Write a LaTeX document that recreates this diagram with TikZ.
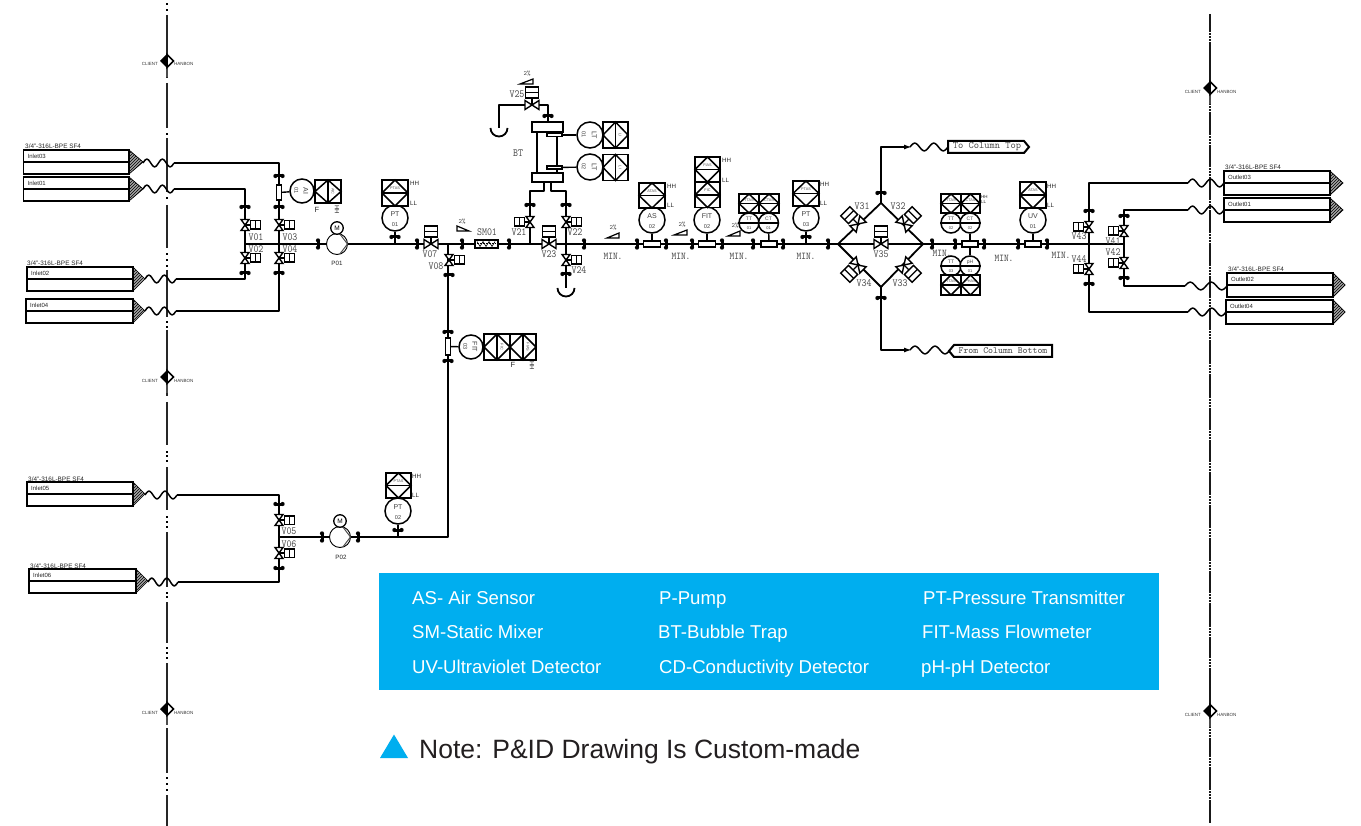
\documentclass[tikz,border=0pt]{standalone}
\usepackage{fontspec}
\setmainfont{Liberation Sans}
\usetikzlibrary{patterns,arrows.meta,calc}
\definecolor{legblue}{HTML}{00AEEF}
\definecolor{notegray}{HTML}{231F20}
\newcounter{tn}
\tikzset{
  pipe/.style={line width=1.8pt,line join=round},
  flbar/.style={line width=3pt},
  elem/.style={draw,line width=1.4pt,fill=white,inner sep=0pt},
  instc/.style={circle,draw,line width=1.5pt,fill=white,inner sep=0pt},
  vbody/.style={draw,line width=1.4pt,fill=white,line join=miter},
  boxln/.style={line width=1.5pt,line join=miter},
  monolab/.style={font=\ttfamily\fontsize{9.5}{10}\selectfont,text=black!70,inner sep=0pt,yscale=1.15},
  minlab/.style={font=\ttfamily\fontsize{9}{10}\selectfont,text=black!70,inner sep=0pt,yscale=1.15},
  pctlab/.style={font=\ttfamily\fontsize{6.5}{7}\selectfont,text=black!75,inner sep=0pt},
  smalllab/.style={font=\fontsize{6.2}{7}\selectfont,text=black!85,inner sep=0pt},
  tinylab/.style={font=\fontsize{4.5}{5}\selectfont,text=black!80,inner sep=0pt},
  legtext/.style={font=\fontsize{18.6}{20}\selectfont,text=white,inner sep=0pt,anchor=base west},
  tagtext/.style={font=\ttfamily\fontsize{10}{11}\selectfont,text=black!70,inner sep=0pt},
}
\newcommand{\lab}[4]{\stepcounter{tn}\node[#1] (tx\arabic{tn}) at (#2,#3) {#4};}
\newcommand{\fl}[3]{\begin{scope}[shift={(#1,#2)},rotate=#3]
  \draw[flbar] (0,-3.6)--(0,3.6);
  \fill (0,-3.6) circle (2.1); \fill (0,3.6) circle (2.1);
  \end{scope}}
\newcommand{\vlv}[3]{\begin{scope}[shift={(#1,#2)},rotate=#3]
  \draw[vbody] (-5.5,-4)--(5.5,4)--(5.5,-4)--(-5.5,4)--cycle;
  \draw[line width=1.2pt] (0,0)--(0,-5.5);
  \draw[vbody] (-4.2,-5.5) rectangle (4.2,-15.5);
  \draw[line width=1.2pt] (-4.2,-10.5)--(4.2,-10.5);
  \end{scope}}
\newcommand{\vlvb}[3]{\begin{scope}[shift={(#1,#2)},rotate=#3]
  \draw[vbody] (-7,-4.5)--(7,4.5)--(7,-4.5)--(-7,4.5)--cycle;
  \draw[line width=1.2pt] (0,0)--(0,-7);
  \draw[vbody] (-6.5,-7) rectangle (6.5,-18);
  \draw[line width=1.2pt] (-6.5,-12.5)--(6.5,-12.5);
  \end{scope}}
\newcommand{\ibox}[6]{\begin{scope}[shift={(#1,#2)},rotate=#6]
  \draw[boxln,fill=white] (-#3,-#4) rectangle (#3,#4);
  \draw[boxln] (-#3,0)--(0,-#4)--(#3,0)--(0,#4)--cycle;
  \draw[boxln] (-#3,0)--(#3,0);
  \stepcounter{tn}
  \node[inner sep=0pt,text=black!70,font=\fontsize{3.8}{4}\selectfont,transform shape] (tx\arabic{tn}) at (0,{-#4*0.38}) {#5};
  \end{scope}}
\newcommand{\instr}[7]{\node[instc,minimum size=#4*2pt] (#1) at (#2,#3) {};
  \begin{scope}[shift={(#2,#3)},rotate=#7]
  \node[inner sep=0pt,text=black!75,font=\fontsize{7}{8}\selectfont,transform shape] (#1t) at (0,{-#4*0.32}) {#5};
  \node[inner sep=0pt,text=black!75,font=\fontsize{5.6}{6}\selectfont,transform shape] (#1b) at (0,{#4*0.47}) {#6};
  \end{scope}}
\newcommand{\instl}[6]{\node[instc,minimum size=#4*2pt] (#1) at (#2,#3) {};
  \draw[line width=1.2pt] (#1.west)--(#1.east);
  \node[inner sep=0pt,text=black!75,font=\fontsize{5}{6}\selectfont] (#1t) at (#2,{#3-4}) {#5};
  \node[inner sep=0pt,text=black!75,font=\fontsize{4}{5}\selectfont] (#1b) at (#2,{#3+5}) {#6};}
\newcommand{\wave}[3]{\draw[line width=1.5pt] plot[domain=0:1,samples=45,smooth] ({#1+(#2-#1)*\x},{#3-3.8*sin(720*\x)});}
\newcommand{\flag}[5]{\fill[gray!70] (#2,#3-12)--(#4,#3)--(#2,#3+12)--cycle;
  \draw[line width=0.7pt,pattern=north east lines] (#2,#3-12)--(#4,#3)--(#2,#3+12)--cycle;
  \draw[line width=1.8pt,line join=miter] (#1,#3-12) rectangle (#2,#3+12);
  \draw[line width=1.8pt] (#1,#3)--(#2,#3);
  \lab{font=\fontsize{6}{7}\selectfont,text=black!85,inner sep=0pt,anchor=west}{#1+4}{#3-6}{#5}}
\newcommand{\spec}[2]{\lab{font=\fontsize{6.4}{7}\selectfont,text=black!85,inner sep=0pt,anchor=west}{#1}{#2}{3/4"-316L-BPE SF4}}
\newcommand{\slope}[4]{\ifnum#4=1
   \draw[line width=1.2pt,fill=white,line join=miter] (#1,#3+2)--(#2,#3+2)--(#2,#3-3)--cycle;
 \else
   \draw[line width=1.2pt,fill=white,line join=miter] (#1,#3-3)--(#1,#3+2)--(#2,#3+2)--cycle;
 \fi}
\newcommand{\pump}[3]{\draw[line width=0.9pt,fill=white] (#1,#2) circle (10.5);
  \draw[line width=1pt,black!70] (#1+3,#2-9.8)--(#1+10.5,#2)--(#1+3,#2+9.8);
  \node[instc,minimum size=12.5pt,line width=1.3pt,font=\fontsize{6.5}{7}\selectfont] (#3) at (#1,#2-16) {M};}
\newcommand{\drain}[2]{\draw[pipe] (#1-8.5,#2) arc[start angle=180,end angle=0,radius=8.5];}
\newcommand{\battery}[2]{\fill (#1,#2-7)--(#1,#2+7)--(#1-7,#2)--cycle;
  \draw[line width=1.5pt,fill=white,line join=miter] (#1,#2-6.5)--(#1+6.5,#2)--(#1,#2+6.5)--cycle;}
\newcommand{\limitmark}[3]{\draw[line width=2.4pt,black!70] (#1,#2+6)--(#1,#2+16);
  \battery{#1}{#2}
  \lab{tinylab,anchor=east}{#1-9}{#3}{CLIENT}
  \lab{tinylab,anchor=west}{#1+7}{#3}{HANBON}}
\begin{document}
\begin{tikzpicture}[x=1pt,y=-1pt]
\useasboundingbox (0,0) rectangle (1361,826);
\fill[white] (0,0) rectangle (1361,826);

%---------- battery limit lines
\foreach \a/\b in {15/78,83/128,138/192,205/248,270/317,330/396,402/445,467/510,532/587,602/643,663/717,728/773,795/826}
  \draw[line width=1.5pt,black!85] (167,\a)--(167,\b);
\foreach \d in {4,10,134,198,254,260,266,322,327,452,456,461,517,522,527,593,597,648,653,658,778,784,790}
  \fill (165.8,\d-1) rectangle (168.2,\d+1);
\draw[line width=1.8pt,black!90] (1210,14)--(1210,823);
\foreach \t in {37,107,140,172,205,238,271,303,335,369,403,435,467,500,533,566,598,632,663,733,762,795}
  \draw[white,line width=2.5pt,dash pattern=on 1pt off 2pt] (1210,\t-5)--(1210,\t+5);

\limitmark{167}{61}{64}
\limitmark{167}{377}{381}
\limitmark{167}{709}{713}
\limitmark{1210}{88}{92}
\limitmark{1210}{711}{715}

%---------- named pipe junctions
\coordinate (h1) at (245,244);
\coordinate (j8) at (448,244);
\coordinate (j21) at (530,244);
\coordinate (dl) at (838,244);
\coordinate (dr) at (923,244);
\coordinate (dt) at (881,203);
\coordinate (db) at (881,287);
\coordinate (j41) at (1124,244);
\coordinate (bott) at (448,537);
\coordinate (j05) at (279,537);

%---------- flags and waves
\spec{25}{146} \flag{23.5}{129}{162}{143}{Inlet03}
\flag{23.5}{129}{189}{143}{Inlet01}
\spec{27}{263} \flag{27}{133}{279}{145}{Inlet02}
\flag{26}{133}{311}{145}{Inlet04}
\spec{28}{479} \flag{27}{133}{494}{145}{Inlet05}
\spec{30}{566} \flag{29}{136}{581}{148}{Inlet06}
\spec{1225}{167} \flag{1224}{1330}{183}{1343}{Outlet03}
\flag{1224}{1330}{210}{1343}{Outlet01}
\spec{1228}{269} \flag{1227}{1333}{285}{1345}{Outlet02}
\flag{1226}{1333}{312}{1345}{Outlet04}
\wave{143}{174}{163}
\wave{143}{174}{189}
\wave{145}{176}{279}
\wave{145}{176}{311}
\wave{145}{177}{495}
\wave{148}{178}{582}
\wave{1188}{1224}{183}
\wave{1188}{1224}{210}
\wave{1185}{1227}{286}
\wave{1188}{1226}{312}
\wave{910}{948}{147}
\wave{910}{950}{350}

%---------- pipes
\coordinate (i3) at (174,163); \coordinate (i1) at (174,189);
\coordinate (i2) at (176,279); \coordinate (i4) at (176,311);
\coordinate (i5) at (177,495); \coordinate (i6) at (178,582);
\draw[pipe] (i3) -| (279,311) -- (i4);
\draw[pipe] (i1) -| (245,279) -- (i2);
\draw[pipe] (h1) -- (j41);
\draw[pipe] (j8) -- (bott) -- (j05);
\draw[pipe] (i5) -| (279,582) -- (i6);
\draw[pipe] (j21) |- (544,191) -- (544,182);
\draw[pipe] (566,288) -- (566,191) -- (551,191) -- (551,182);
\draw[pipe] (548,122) -- (548,105) -- (499,105) -- (499,128);
\drain{499}{128}
\drain{566}{288}
\draw[pipe] (dl) -- (dt) -- (dr) -- (db) -- cycle;
\draw[pipe,-{Latex[length=8pt,width=5pt]}] (dt) |- (912,147);
\draw[pipe,-{Latex[length=8pt,width=5pt]}] (db) |- (912,350);
\draw[pipe] (1188,183) -| (1089,312) -- (1188,312);
\draw[pipe] (1188,210) -| (1124,286) -- (1185,286);

%---------- column tags
\draw[line width=2pt,fill=white,line join=miter] (948,141)--(1024,141)--(1029,147)--(1024,153)--(948,153)--cycle;
\lab{tagtext}{987}{147}{To Column Top}
\draw[line width=2pt,fill=white,line join=miter] (949,351)--(954,345)--(1052,345)--(1052,357)--(954,357)--cycle;
\lab{tagtext,font=\ttfamily\fontsize{9.4}{10}\selectfont}{1003}{351}{From Column Bottom}

%---------- inlet section
\node[elem,minimum width=5pt,minimum height=15pt] (e01) at (279,192.5) {};
\instr{ai01}{302}{191}{12}{AI}{01}{-90}
\draw[line width=1.4pt] (e01)--(ai01);
\ibox{328}{191.5}{11.5}{13}{AIC}{-90}
\lab{smalllab,font=\fontsize{7.5}{8}\selectfont}{317}{210}{F}
\lab{smalllab,rotate=-90}{337}{210}{HH}
\fl{279}{176}{90} \fl{279}{207}{90} \fl{245}{207}{90}
\vlv{245}{225}{-90} \vlv{279}{225}{-90}
\vlv{245}{258}{-90} \vlv{279}{258}{-90}
\fl{245}{273}{90} \fl{279}{273}{90}
\lab{monolab}{256}{237}{V01} \lab{monolab}{256}{249}{V02}
\lab{monolab}{290}{237}{V03} \lab{monolab}{290}{249}{V04}
\fl{318}{244}{0}
\pump{337}{244}{m01}
\lab{smalllab}{337}{263}{P01}

%---------- PT01 to junction
\instr{pt01}{395}{218}{13}{PT}{01}{0}
\draw[line width=1.4pt] (pt01)--(395,244);
\fl{395}{237}{90}
\ibox{395}{193}{13}{13}{PTAS}{0}
\lab{smalllab,anchor=west}{410}{183}{HH} \lab{smalllab,anchor=west}{410}{203}{LL}
\fl{417}{244}{0}
\vlvb{431}{244}{0}
\lab{monolab}{430}{254}{V07}
\vlv{449}{260}{-90}
\lab{monolab}{436}{266}{V08}
\fl{449}{275}{90}
\slope{457}{469}{229}{0}
\lab{pctlab}{462}{222}{2\%}
\fl{462}{244}{0}
\draw[elem] (475,240) rectangle (498,248);
\draw[line width=1pt,dash pattern=on 2pt off 1pt] (477,244)--(496,244);
\draw[line width=0.6pt] (477,241.5)--(480,246.5)--(483,241.5)--(486,246.5)--(489,241.5)--(492,246.5)--(495,241.5);
\lab{monolab}{487}{232}{SM01}
\fl{509}{244}{0}

%---------- FIT03 on riser
\node[elem,minimum width=5pt,minimum height=17pt] (e03) at (448,346.5) {};
\fl{448}{332}{90} \fl{448}{361}{90}
\instr{fit03}{471}{347}{12}{FIT}{03}{-90}
\draw[line width=1.4pt] (e03)--(fit03);
\ibox{497}{347}{13}{13}{FIC}{-90}
\ibox{523}{347}{13}{13}{FIAS}{-90}
\lab{smalllab,font=\fontsize{7.5}{8}\selectfont}{513}{365}{F}
\lab{smalllab,rotate=-90}{532}{366}{HH}

%---------- lower pump section
\fl{279}{504}{90} \vlv{279}{520}{-90} \vlv{279}{553}{-90} \fl{279}{568}{90}
\lab{monolab}{289}{531}{V05} \lab{monolab}{289}{544}{V06}
\fl{322}{537}{0}
\pump{340}{537}{m02}
\lab{smalllab}{341}{557}{P02}
\fl{358}{537}{0}
\instr{pt02}{398}{511}{13}{PT}{02}{0}
\draw[line width=1.4pt] (pt02)--(398,537);
\fl{398}{530}{90}
\ibox{398.5}{485.5}{12.5}{12.5}{PTAS}{0}
\lab{smalllab,anchor=west}{412}{476}{HH} \lab{smalllab,anchor=west}{412}{495}{LL}

%---------- bubble trap
\draw[line width=1.5pt] (537,132)--(537,173);
\draw[line width=1.5pt] (557,132)--(557,173);
\node[elem,minimum width=31pt,minimum height=10pt] (bttop) at (547.5,127) {};
\node[elem,minimum width=31pt,minimum height=9pt] (btbot) at (547.5,177.5) {};
\node[elem,minimum width=15pt,minimum height=3pt] (ebt1) at (554.5,135) {};
\node[elem,minimum width=15pt,minimum height=3pt] (ebt2) at (554.5,167.5) {};
\instr{lt01}{590}{135}{13}{LT}{01}{-90}
\instr{lt02}{590}{167}{13}{LT}{02}{-90}
\draw[line width=1.4pt] (ebt1)--(lt01);
\draw[line width=1.4pt] (ebt2)--(lt02);
\ibox{615.5}{135}{13}{12.5}{LI}{-90}
\ibox{615.5}{167.5}{13}{12.5}{LI}{-90}
\lab{monolab}{518}{153}{BT}
\fl{548}{116}{90}
\vlvb{532}{105}{0}
\lab{monolab}{517}{94}{V25}
\slope{520}{533}{82}{1}
\lab{pctlab}{527}{74}{2\%}
\fl{530}{205}{90} \fl{566}{205}{90}
\vlv{530}{222}{90} \vlv{566}{222}{-90}
\lab{monolab}{519}{232}{V21} \lab{monolab}{575}{232}{V22}
\vlvb{549}{244}{0}
\lab{monolab}{549}{254}{V23}
\vlv{566}{260}{-90}
\lab{monolab}{579}{270}{V24}
\fl{566}{274}{90}

%---------- main line instruments
\fl{584}{244}{0}
\slope{607}{619}{236}{1}
\lab{pctlab}{613}{228}{2\%}
\lab{minlab}{613}{256}{MIN.}
\fl{637}{244}{0} \fl{666}{244}{0}
\node[elem,minimum width=17pt,minimum height=6pt] (eas) at (652,244) {};
\instr{as02}{652}{220}{13}{AS}{02}{0}
\draw[line width=1.4pt] (as02)--(eas);
\ibox{652}{195.5}{13}{12.5}{ATAS}{0}
\lab{smalllab,anchor=west}{667}{186}{HH} \lab{smalllab,anchor=west}{667}{205}{LL}

\slope{674}{687}{233}{1}
\lab{pctlab}{682}{225}{2\%}
\lab{minlab}{681}{256}{MIN.}
\fl{692}{244}{0} \fl{722}{244}{0}
\node[elem,minimum width=17pt,minimum height=6pt] (efit) at (707,244) {};
\instr{fit02}{707}{220}{13}{FIT}{02}{0}
\draw[line width=1.4pt] (fit02)--(efit);
\ibox{707.5}{169.5}{12.5}{12.5}{FIAS}{0}
\ibox{707.5}{195}{12.5}{12.5}{FIC}{0}
\lab{smalllab,anchor=west}{722}{160}{HH} \lab{smalllab,anchor=west}{722}{180}{LL}

\slope{728}{740}{234}{1}
\lab{pctlab}{735}{226}{2\%}
\lab{minlab}{739}{256}{MIN.}
\fl{753}{244}{0} \fl{783}{244}{0}
\node[elem,minimum width=16pt,minimum height=6pt] (ect) at (769,244) {};
\instl{tt01}{749}{223}{10}{TT}{01}
\instl{ct01}{768.5}{223}{10}{CT}{01}
\draw[line width=1.4pt] (ct01)--(ect);
\ibox{749}{203.5}{10}{9.5}{TTAS}{0}
\ibox{769}{203.5}{10}{9.5}{CTAS}{0}

\lab{minlab}{806}{256}{MIN.}
\instr{pt03}{806}{218}{13}{PT}{03}{0}
\draw[line width=1.4pt] (pt03)--(806,244);
\fl{806}{237}{90}
\ibox{806}{193.5}{13}{12.5}{PTAS}{0}
\lab{smalllab,anchor=west}{820}{184}{HH} \lab{smalllab,anchor=west}{820}{203}{LL}
\fl{828}{244}{0}

%---------- column valve diamond
\fl{881}{193}{90} \fl{881}{298}{90}
\vlvb{881}{244}{0}
\lab{monolab}{881}{254}{V35}
\vlvb{858}{224}{45} \vlvb{904}{224}{-45}
\vlvb{858}{265}{135} \vlvb{904}{265}{225}
\lab{monolab}{862}{206}{V31} \lab{monolab}{898}{206}{V32}
\lab{monolab}{864}{283}{V34} \lab{monolab}{900}{283}{V33}

%---------- TT/CT/pH
\fl{932}{244}{0} \fl{955}{244}{0} \fl{984}{244}{0}
\lab{minlab}{942}{253}{MIN.}
\node[elem,minimum width=16pt,minimum height=6pt] (ect2) at (970,244) {};
\instl{tt02}{951}{223}{10}{TT}{02}
\instl{ct02}{970}{223}{10}{CT}{02}
\instl{tt03}{951}{266}{10}{TT}{03}
\instl{ph01}{970}{266}{10}{pH}{01}
\draw[line width=1.4pt] (ct02)--(ect2);
\draw[line width=1.4pt] (ph01)--(ect2);
\ibox{951}{203.5}{10}{9.5}{TTAS}{0}
\ibox{970.5}{203.5}{9.5}{9.5}{CTAS}{0}
\ibox{951}{285}{10}{10}{TTAS}{0}
\ibox{970.5}{285}{9.5}{10}{PHAS}{0}
\lab{font=\fontsize{4.5}{5}\selectfont,inner sep=0pt,anchor=west,text=black!85}{981}{197}{HH}
\lab{font=\fontsize{4.5}{5}\selectfont,inner sep=0pt,anchor=west,text=black!85}{981}{202}{LL}

%---------- UV
\lab{minlab}{1004}{258}{MIN.}
\fl{1018}{244}{0} \fl{1047}{244}{0}
\node[elem,minimum width=16pt,minimum height=6pt] (euv) at (1033,244) {};
\instr{uv01}{1033}{220}{13}{UV}{01}{0}
\draw[line width=1.4pt] (uv01)--(euv);
\ibox{1033}{195}{13}{13}{ATAS}{0}
\lab{smalllab,anchor=west}{1047}{186}{HH} \lab{smalllab,anchor=west}{1047}{205}{LL}
\lab{minlab}{1061}{255}{MIN.}

%---------- outlet manifold
\fl{1089}{211}{90} \fl{1089}{284}{90}
\vlv{1089}{227}{90} \vlv{1089}{269}{90}
\lab{monolab}{1079}{236}{V43} \lab{monolab}{1079}{259}{V44}
\fl{1124}{216}{90} \fl{1124}{278}{90}
\vlv{1124}{231}{90} \vlv{1124}{263}{90}
\lab{monolab}{1113}{241}{V41} \lab{monolab}{1113}{252}{V42}

%---------- legend
\fill[legblue] (379,573) rectangle (1159,690);
\node[legtext] (l1) at (412,604) {AS- Air Sensor};
\node[legtext] (l2) at (659,604) {P-Pump};
\node[legtext] (l3) at (923,604) {PT-Pressure Transmitter};
\node[legtext] (l4) at (412,638) {SM-Static Mixer};
\node[legtext] (l5) at (658,638) {BT-Bubble Trap};
\node[legtext] (l6) at (922,638) {FIT-Mass Flowmeter};
\node[legtext] (l7) at (412,673) {UV-Ultraviolet Detector};
\node[legtext] (l8) at (659,673) {CD-Conductivity Detector};
\node[legtext] (l9) at (921,673) {pH-pH Detector};
\fill[legblue] (380,758)--(408,758)--(394,734.5)--cycle;
\node[font=\fontsize{26.5}{28}\selectfont,text=notegray,inner sep=0pt,anchor=base west] (note) at (419,758) {Note: P\&ID Drawing Is Custom-made};
\end{tikzpicture}
\end{document}
